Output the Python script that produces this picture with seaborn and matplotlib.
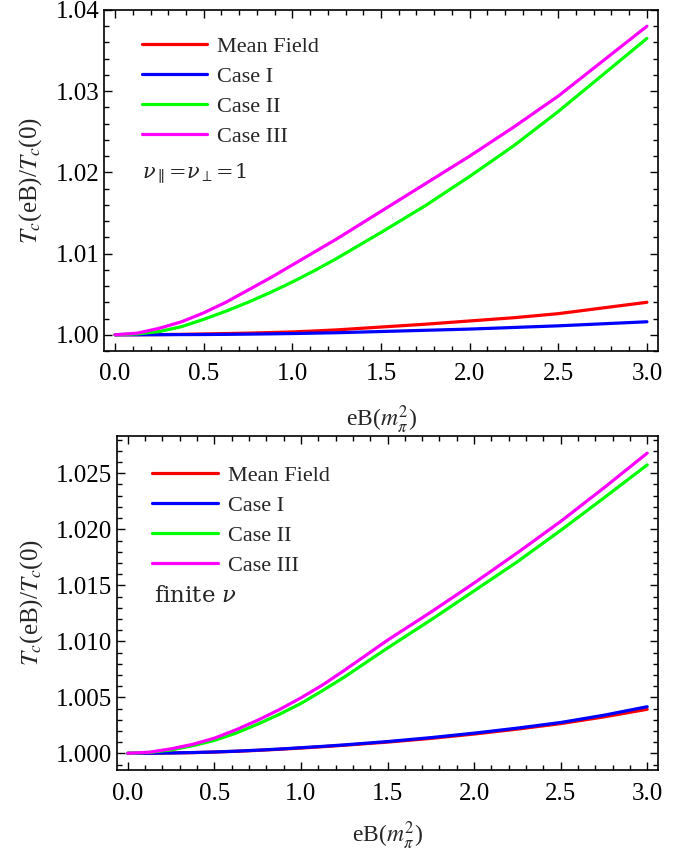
import numpy as np
import pandas as pd
import matplotlib
matplotlib.use("Agg")
import matplotlib.pyplot as plt
from matplotlib.ticker import MultipleLocator, FormatStrFormatter
import seaborn as sns

# ---------------- data ----------------
eB = [0.0, 0.125, 0.25, 0.375, 0.5, 0.625, 0.75, 0.875, 1.0, 1.125, 1.25,
      1.5, 1.75, 2.0, 2.25, 2.5, 2.75, 3.0]
series_names = ["Mean Field", "Case I", "Case II", "Case III"]
series_colors = ["#FF0000", "#0000FF", "#00FF00", "#FF00FF"]

# top panel: nu_par = nu_perp = 1   (Tc(eB)/Tc(0))
top_mean_field = [1.0, 1.000005, 1.00002, 1.00005, 1.0001, 1.00015, 1.0002, 1.00027, 1.00035, 1.00047, 1.0006,
                  1.00095, 1.0013, 1.0017, 1.0021, 1.0026, 1.0033, 1.0040]
top_case1 = [1.0, 1.000003, 1.00001, 1.00002, 1.00003, 1.00005, 1.00008, 1.00011, 1.00015, 1.0002, 1.00025,
             1.0004, 1.00055, 1.0007, 1.0009, 1.0011, 1.00135, 1.0016]
top_case2 = [1.0, 1.0001, 1.0004, 1.0010, 1.0019, 1.0029, 1.0040, 1.0052, 1.0065, 1.0079, 1.0094,
             1.0126, 1.0159, 1.0195, 1.0233, 1.0275, 1.0320, 1.0365]
top_case3 = [1.0, 1.0002, 1.0008, 1.0016, 1.0027, 1.0040, 1.0055, 1.0070, 1.0086, 1.0102, 1.0118,
             1.0152, 1.0186, 1.0220, 1.0256, 1.0294, 1.0337, 1.0380]

# bottom panel: finite nu
bot_mean_field = [1.0, 1.00001, 1.00003, 1.00006, 1.00011, 1.00018, 1.00026, 1.00036, 1.00047, 1.00059, 1.00072,
                  1.0010, 1.00133, 1.00172, 1.00216, 1.00265, 1.00325, 1.00393]
bot_case1 = [1.0, 1.00001, 1.00003, 1.00007, 1.00012, 1.00019, 1.00028, 1.00038, 1.0005, 1.00062, 1.00075,
             1.00105, 1.0014, 1.0018, 1.00225, 1.00275, 1.0034, 1.00416]
bot_case2 = [1.0, 1.00008, 1.0003, 1.00068, 1.00115, 1.0018, 1.0026, 1.00348, 1.00445, 1.0056, 1.0068,
             1.0094, 1.0119, 1.0145, 1.0171, 1.0199, 1.0228, 1.02575]
bot_case3 = [1.0, 1.0001, 1.0004, 1.0008, 1.00135, 1.0021, 1.00295, 1.0039, 1.00495, 1.0061, 1.0074,
             1.0101, 1.0126, 1.0152, 1.0179, 1.0207, 1.0237, 1.0268]

top_ticks = [1.00, 1.01, 1.02, 1.03, 1.04]
bot_ticks = [1.000, 1.005, 1.010, 1.015, 1.020, 1.025]
x_ticks = [0.0, 0.5, 1.0, 1.5, 2.0, 2.5, 3.0]


def long_frame(values):
    rows = []
    for name, vals in zip(series_names, values):
        for x, y in zip(eB, vals):
            rows.append({"eB": x, "Tc": y, "series": name})
    return pd.DataFrame(rows)


df_top = long_frame([top_mean_field, top_case1, top_case2, top_case3])
df_bot = long_frame([bot_mean_field, bot_case1, bot_case2, bot_case3])

# ---------------- style ----------------
sns.set_style("ticks")
plt.rcParams["font.family"] = ["Liberation Serif", "DejaVu Serif"]
plt.rcParams["mathtext.fontset"] = "stix"
plt.rcParams["axes.linewidth"] = 1.2

fig = plt.figure(figsize=(6.89, 8.52), dpi=100)
W, H = 689, 852


def add_axes(l, t, r, b):
    return fig.add_axes([l / W, 1 - b / H, (r - l) / W, (b - t) / H])


ax1 = add_axes(104, 10, 658, 351)
ax2 = add_axes(117, 436, 658, 770)

palette = dict(zip(series_names, series_colors))

for ax, df, ylim, yt, ymin, fmt, leg_xy, note, note_xy, note_fs, xlpad in [
    (ax1, df_top, (0.998, 1.040), top_ticks, 0.002, "%.2f", (0.068, 0.922),
     r"$\nu_{\parallel}\!=\!\nu_{\perp}\!=\!1$", (0.068, 0.522), 15, 13),
    (ax2, df_bot, (0.99851, 1.02833), bot_ticks, 0.001, "%.3f", (0.065, 0.912),
     r"finite $\nu$", (0.068, 0.521), 16.5, 11),
]:
    sns.lineplot(data=df, x="eB", y="Tc", hue="series", palette=palette,
                 hue_order=series_names, linewidth=2.3, ax=ax, legend=True,
                 estimator=None, sort=True)
    ax.set_xlim(-0.0625, 3.0625)
    ax.set_ylim(*ylim)
    ax.set_xticks(x_ticks)
    ax.set_yticks(yt)
    ax.xaxis.set_major_formatter(FormatStrFormatter("%.1f"))
    ax.yaxis.set_major_formatter(FormatStrFormatter(fmt))
    ax.xaxis.set_minor_locator(MultipleLocator(0.1))
    ax.yaxis.set_minor_locator(MultipleLocator(ymin))
    ax.tick_params(which="both", direction="in", top=True, right=True,
                   labelsize=18, width=1.0, colors="black")
    ax.tick_params(axis="x", which="major", pad=9)
    ax.tick_params(which="major", length=6)
    ax.tick_params(which="minor", length=3.5)
    for s in ax.spines.values():
        s.set_visible(True)
        s.set_color("black")
    ax.set_xlabel(r"eB($m_\pi^2$)", fontsize=17, labelpad=xlpad)
    ax.set_ylabel(r"$T_c$(eB)/$T_c$(0)", fontsize=18, labelpad=8)
    handles, labels = ax.get_legend_handles_labels()
    ax.legend(handles, labels, loc="upper left", bbox_to_anchor=leg_xy,
              frameon=False, fontsize=16, handlelength=2.95,
              handletextpad=0.45, labelspacing=0.42, borderpad=0,
              borderaxespad=0)
    ax.text(note_xy[0], note_xy[1], note, transform=ax.transAxes,
            fontsize=note_fs, va="center", ha="left",
            family=["DejaVu Serif"], math_fontfamily="dejavuserif")

fig.savefig("out.png", dpi=100)
